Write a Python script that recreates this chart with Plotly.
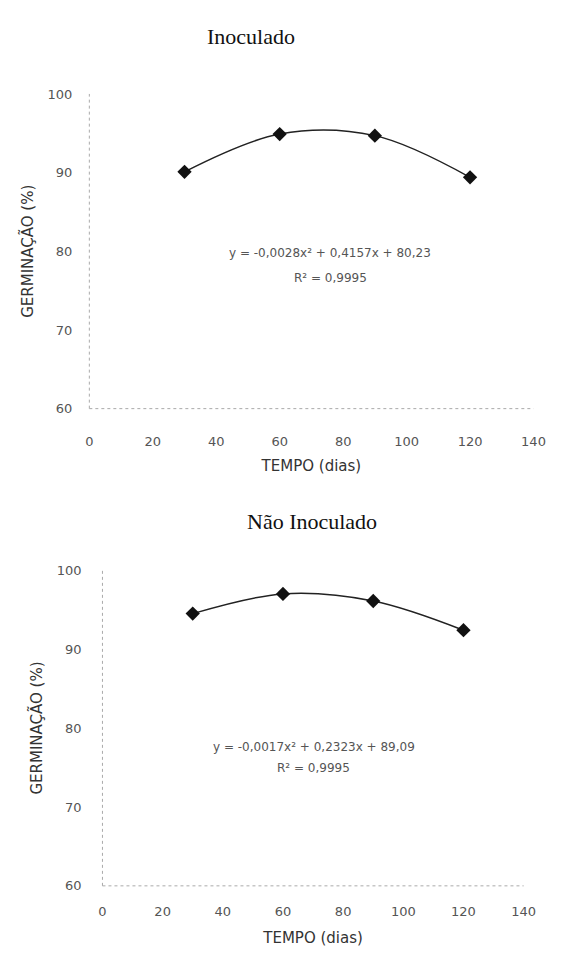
import plotly.graph_objects as go

# Data
tempo = [30, 60, 90, 120]
germ_inoculado = [90.1, 94.9, 94.7, 89.4]
germ_nao_inoculado = [94.5, 97.0, 96.1, 92.4]
x_ticks = [0, 20, 40, 60, 80, 100, 120, 140]
y_ticks = [60, 70, 80, 90, 100]
titles = ["Inoculado", "Não Inoculado"]
eq_lines = [("y = -0,0028x² + 0,4157x + 80,23", "R² = 0,9995"),
            ("y = -0,0017x² + 0,2323x + 89,09", "R² = 0,9995")]

fig = go.Figure()

series = [germ_inoculado, germ_nao_inoculado]
axes = [("x", "y"), ("x2", "y2")]
for s, (xa, ya) in zip(series, axes):
    fig.add_trace(go.Scatter(
        x=tempo, y=s, xaxis=xa, yaxis=ya, mode="lines+markers",
        line=dict(color="#222", width=1.5, shape="spline", smoothing=1.0),
        marker=dict(symbol="diamond", size=11, color="#111"),
        showlegend=False))

tick_font = dict(family="DejaVu Sans", size=13, color="#555")
title_font = dict(family="DejaVu Sans", size=15, color="#333")


def xaxis_cfg(domain, anchor, label_off, title_off):
    return dict(domain=domain, anchor=anchor, range=[0, 140], tickvals=x_ticks,
                showgrid=False, zeroline=False, showline=False, ticks="",
                tickfont=tick_font, ticklabelstandoff=label_off,
                title=dict(text="TEMPO (dias)", font=title_font, standoff=title_off))


def yaxis_cfg(domain, anchor, label_off, title_off):
    return dict(domain=domain, anchor=anchor, range=[60, 100], tickvals=y_ticks,
                showgrid=False, zeroline=False, showline=False, ticks="",
                tickfont=tick_font, ticklabelstandoff=label_off,
                title=dict(text="GERMINAÇÃO (%)", font=title_font, standoff=title_off))


fig.update_layout(
    width=563, height=960,
    margin=dict(l=0, r=0, t=0, b=0),
    paper_bgcolor="white", plot_bgcolor="white",
    xaxis=xaxis_cfg([0.156, 0.968], "y", 23, 12),
    yaxis=yaxis_cfg([0.575, 0.908], "x", 16, 10),
    xaxis2=xaxis_cfg([0.180, 0.950], "y2", 16, 14),
    yaxis2=yaxis_cfg([0.070, 0.404], "x2", 20, 10),
)

# dotted axis lines
for xr, yr in [("x domain", "y domain"), ("x2 domain", "y2 domain")]:
    fig.add_shape(type="line", xref=xr, yref=yr, x0=0, x1=0, y0=0, y1=1,
                  line=dict(color="#aaa", width=1, dash="dot"))
    fig.add_shape(type="line", xref=xr, yref=yr, x0=0, x1=1, y0=0, y1=0,
                  line=dict(color="#aaa", width=1, dash="dot"))

# titles
fig.add_annotation(text=titles[0], xref="paper", yref="paper", x=254/563, y=1 - 30/960,
                   yanchor="middle", showarrow=False,
                   font=dict(family="Liberation Serif", size=22, color="#111"))
fig.add_annotation(text=titles[1], xref="paper", yref="paper", x=317/563, y=1 - 523/960,
                   yanchor="middle", showarrow=False,
                   font=dict(family="Liberation Serif", size=22, color="#111"))

# equations (two lines each)
eq_pos = [(336, 250, 275), (319, 752, 773)]
for (l1, l2), (cx, y1, y2) in zip(eq_lines, eq_pos):
    for txt, yy in ((l1, y1), (l2, y2)):
        fig.add_annotation(text=txt, xref="paper", yref="paper", x=cx/563, y=1 - yy/960,
                           yanchor="middle", showarrow=False,
                           font=dict(family="DejaVu Sans", size=12, color="#555"))

fig.write_html("out.html")
